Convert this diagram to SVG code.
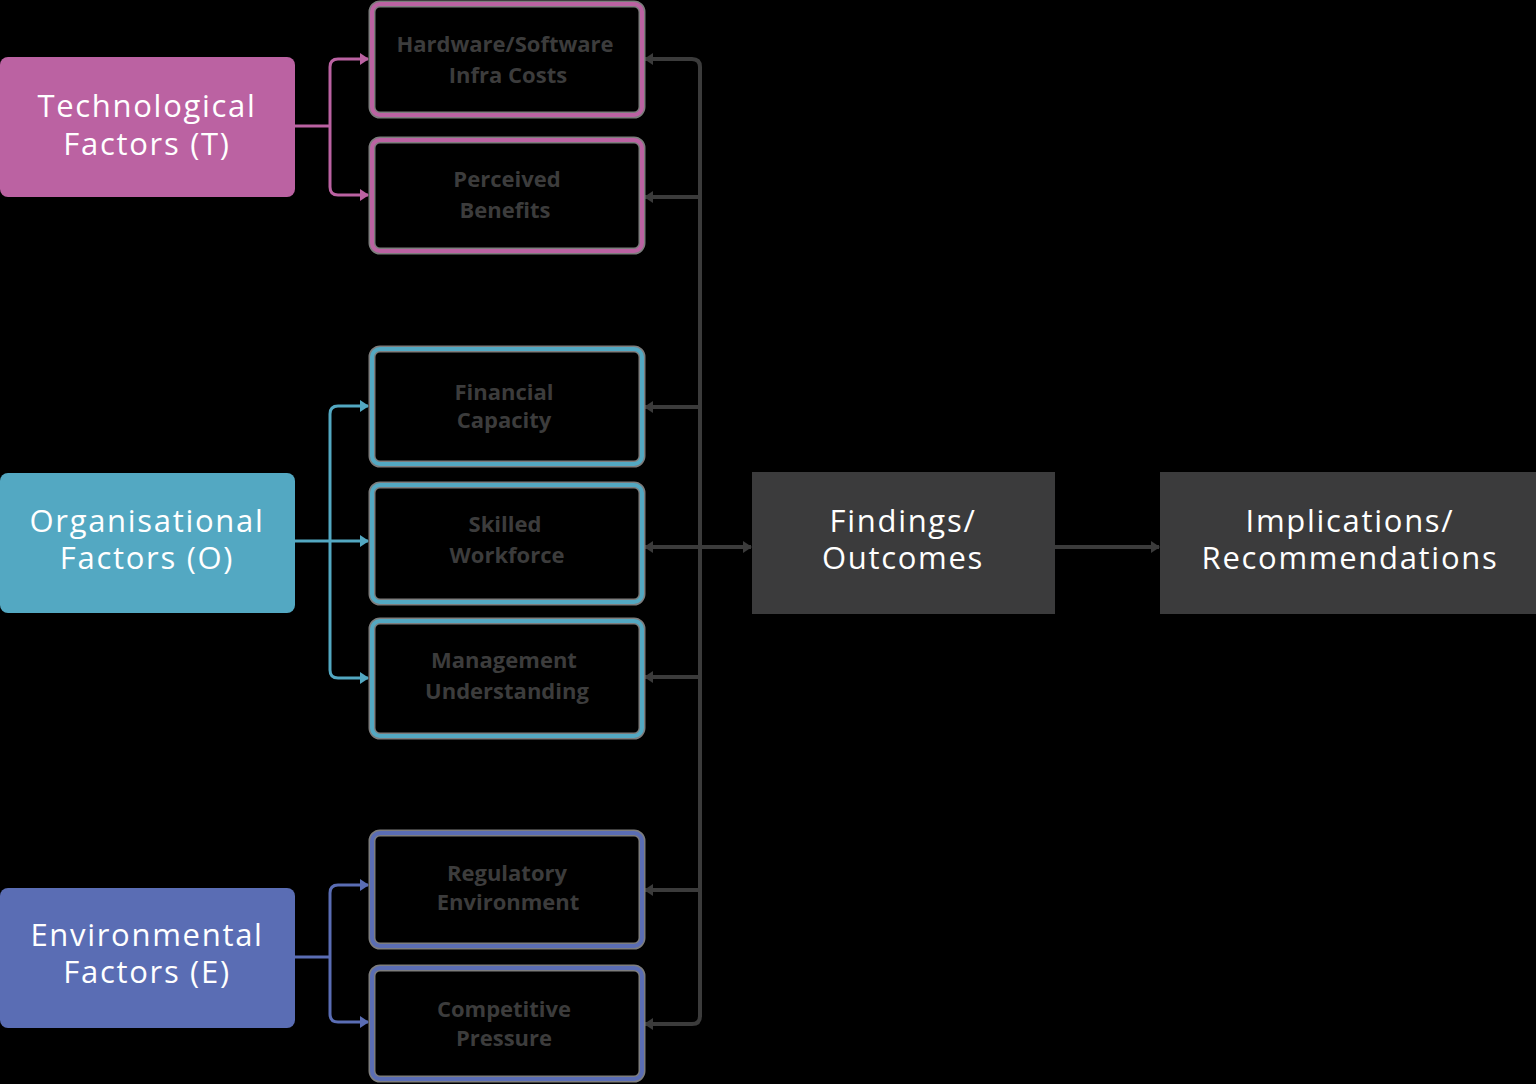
<svg xmlns="http://www.w3.org/2000/svg" width="1536" height="1084" viewBox="0 0 1536 1084">
<defs>
<style>
.main{font-family:"Open Sans","Noto Sans","Liberation Sans",sans-serif;font-size:31px;letter-spacing:1.7px;fill:#ffffff;text-anchor:middle}
.sub{font-family:"Open Sans","Noto Sans","Liberation Sans",sans-serif;font-size:22px;font-weight:700;fill:#3c3c3c;text-anchor:middle}
.halo{fill:none;stroke:#7d7d7d;stroke-width:7}
.bt{fill:none;stroke:#bb62a2;stroke-width:4}
.bo{fill:none;stroke:#53a8c2;stroke-width:4}
.be{fill:none;stroke:#5a6db4;stroke-width:4}
.ct{fill:none;stroke:#bb62a2;stroke-width:3}
.co{fill:none;stroke:#53a8c2;stroke-width:3}
.ce{fill:none;stroke:#5a6db4;stroke-width:3}
.cd{fill:none;stroke:#3b3b3b;stroke-width:4}
</style>
<marker id="ad" markerWidth="10" markerHeight="12" refX="8" refY="6" orient="auto" markerUnits="userSpaceOnUse"><path d="M0 0 L9 6 L0 12 z" fill="#3b3b3b"/></marker>
<marker id="at" markerWidth="10" markerHeight="12" refX="8" refY="6" orient="auto" markerUnits="userSpaceOnUse"><path d="M0 0 L9 6 L0 12 z" fill="#bb62a2"/></marker>
<marker id="ao" markerWidth="10" markerHeight="12" refX="8" refY="6" orient="auto" markerUnits="userSpaceOnUse"><path d="M0 0 L9 6 L0 12 z" fill="#53a8c2"/></marker>
<marker id="ae" markerWidth="10" markerHeight="12" refX="8" refY="6" orient="auto" markerUnits="userSpaceOnUse"><path d="M0 0 L9 6 L0 12 z" fill="#5a6db4"/></marker>
</defs>
<rect width="1536" height="1084" fill="#000000"/>

<g id="connectors">
<path class="ct" d="M295 126 H330"/>
<path class="ct" d="M330 126 V67 Q330 59 338 59 H368" marker-end="url(#at)"/>
<path class="ct" d="M330 126 V187 Q330 195 338 195 H368" marker-end="url(#at)"/>
<path class="co" d="M295 541 H368" marker-end="url(#ao)"/>
<path class="co" d="M330 541 V414 Q330 406 338 406 H368" marker-end="url(#ao)"/>
<path class="co" d="M330 541 V670 Q330 678 338 678 H368" marker-end="url(#ao)"/>
<path class="ce" d="M295 957 H330"/>
<path class="ce" d="M330 957 V893 Q330 885 338 885 H368" marker-end="url(#ae)"/>
<path class="ce" d="M330 957 V1014 Q330 1022 338 1022 H368" marker-end="url(#ae)"/>
<path class="cd" d="M700 540 V67 Q700 59 692 59 H645" marker-end="url(#ad)"/>
<path class="cd" d="M700 540 V1016 Q700 1024 692 1024 H645" marker-end="url(#ad)"/>
<path class="cd" d="M700 197 H645" marker-end="url(#ad)"/>
<path class="cd" d="M700 407 H645" marker-end="url(#ad)"/>
<path class="cd" d="M700 547 H645" marker-end="url(#ad)"/>
<path class="cd" d="M700 677 H645" marker-end="url(#ad)"/>
<path class="cd" d="M700 890 H645" marker-end="url(#ad)"/>
<path class="cd" d="M700 547 H751" marker-end="url(#ad)"/>
<path class="cd" d="M1055 547 H1159" marker-end="url(#ad)"/>
</g>

<g id="tech">
<rect x="0" y="57" width="295" height="140" rx="8" fill="#bb62a2"/>
<text class="main" x="147" y="117">Technological</text>
<text class="main" x="147" y="155">Factors (T)</text>
</g>
<g id="org">
<rect x="0" y="473" width="295" height="140" rx="8" fill="#53a8c2"/>
<text class="main" x="147" y="532">Organisational</text>
<text class="main" x="147" y="569">Factors (O)</text>
</g>
<g id="env">
<rect x="0" y="888" width="295" height="140" rx="8" fill="#5a6db4"/>
<text class="main" x="147" y="946">Environmental</text>
<text class="main" x="147" y="983">Factors (E)</text>
</g>

<g id="t1">
<rect class="halo" x="372" y="4" width="270" height="111" rx="8"/>
<rect class="bt" x="372" y="4" width="270" height="111" rx="8"/>
<text class="sub" x="505" y="52">Hardware/Software</text>
<text class="sub" x="508" y="83">Infra Costs</text>
</g>
<g id="t2">
<rect class="halo" x="372" y="140" width="270" height="111" rx="8"/>
<rect class="bt" x="372" y="140" width="270" height="111" rx="8"/>
<text class="sub" x="507" y="187">Perceived</text>
<text class="sub" x="505" y="218">Benefits</text>
</g>
<g id="o1">
<rect class="halo" x="372" y="349" width="270" height="115" rx="8"/>
<rect class="bo" x="372" y="349" width="270" height="115" rx="8"/>
<text class="sub" x="504" y="400">Financial</text>
<text class="sub" x="504" y="428">Capacity</text>
</g>
<g id="o2">
<rect class="halo" x="372" y="485" width="270" height="117" rx="8"/>
<rect class="bo" x="372" y="485" width="270" height="117" rx="8"/>
<text class="sub" x="505" y="532">Skilled</text>
<text class="sub" x="507" y="563">Workforce</text>
</g>
<g id="o3">
<rect class="halo" x="372" y="621" width="270" height="115" rx="8"/>
<rect class="bo" x="372" y="621" width="270" height="115" rx="8"/>
<text class="sub" x="504" y="668">Management</text>
<text class="sub" x="507" y="699">Understanding</text>
</g>
<g id="e1">
<rect class="halo" x="372" y="833" width="270" height="113" rx="8"/>
<rect class="be" x="372" y="833" width="270" height="113" rx="8"/>
<text class="sub" x="507" y="881">Regulatory</text>
<text class="sub" x="508" y="910">Environment</text>
</g>
<g id="e2">
<rect class="halo" x="372" y="968" width="270" height="111" rx="8"/>
<rect class="be" x="372" y="968" width="270" height="111" rx="8"/>
<text class="sub" x="504" y="1017">Competitive</text>
<text class="sub" x="504" y="1046">Pressure</text>
</g>

<g id="findings">
<rect x="752" y="472" width="303" height="142" fill="#3b3b3c"/>
<text class="main" x="903" y="532">Findings/</text>
<text class="main" x="903" y="569">Outcomes</text>
</g>
<g id="implications">
<rect x="1160" y="472" width="376" height="142" fill="#3b3b3c"/>
<text class="main" x="1350" y="532">Implications/</text>
<text class="main" x="1350" y="569">Recommendations</text>
</g>
</svg>
